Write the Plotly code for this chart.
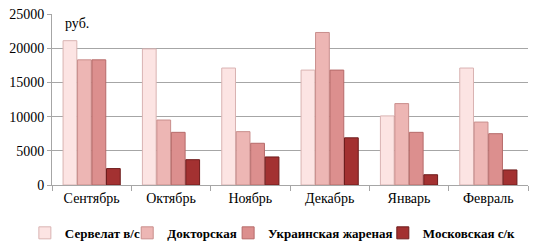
import plotly.graph_objects as go

months = ["Сентябрь", "Октябрь", "Ноябрь", "Декабрь", "Январь", "Февраль"]
servelat = [21100, 19900, 17100, 16800, 10100, 17100]
doktorskaya = [18300, 9500, 7800, 22300, 11900, 9200]
ukrainskaya = [18300, 7700, 6100, 16800, 7700, 7500]
moskovskaya = [2400, 3700, 4100, 6900, 1500, 2200]
series_names = ["Сервелат в/с", "Докторская", "Украинская жареная", "Московская с/к"]
y_ticks = [0, 5000, 10000, 15000, 20000, 25000]
y_tick_labels = ["0", "5000", "10000", "15000", "20000", "25000"]

colors = ["#FCE4E3", "#EDB6B4", "#DC8F8E", "#A33131"]
lines = ["#D9B3B2", "#C98E8C", "#B66A69", "#6E1C1C"]
legend_ids = ["legend", "legend2", "legend3", "legend4"]
legend_x = [-0.057, 0.158, 0.370, 0.695]

fig = go.Figure()
for name, vals, c, lc, lid in zip(series_names, [servelat, doktorskaya, ukrainskaya, moskovskaya],
                                  colors, lines, legend_ids):
    fig.add_trace(go.Bar(x=months, y=vals, name=name, legend=lid,
                         marker=dict(color=c, line=dict(color=lc, width=1))))

legend_font = dict(family="Liberation Serif", size=13, color="black", weight="bold")
legend_layout = {}
for lid, lx in zip(legend_ids, legend_x):
    legend_layout[lid] = dict(orientation="h", x=lx, xanchor="left", y=-0.28, yanchor="middle",
                              font=legend_font, bgcolor="rgba(0,0,0,0)", borderwidth=0)

fig.update_layout(
    width=542, height=247,
    margin=dict(l=52, r=14, t=14, b=62, autoexpand=False),
    paper_bgcolor="white", plot_bgcolor="white",
    barmode="group", bargap=0.27, bargroupgap=0.05,
    font=dict(family="Liberation Serif", size=14, color="black"),
    showlegend=True,
    annotations=[dict(text="руб.", x=0.023, y=1.0, xref="paper", yref="paper",
                      xanchor="left", yanchor="top", showarrow=False,
                      font=dict(family="Liberation Serif", size=14))],
    **legend_layout,
)
fig.update_yaxes(range=[0, 25000], tickvals=y_ticks, ticktext=y_tick_labels,
                 showgrid=True, gridcolor="#A6A6A6",
                 gridwidth=1, showline=True, linecolor="#A6A6A6", ticks="outside",
                 ticklen=4, tickcolor="#A6A6A6", zeroline=False,
                 tickfont=dict(family="Liberation Serif", size=14))
fig.update_xaxes(showline=True, linecolor="#A6A6A6", ticks="outside", tickson="boundaries",
                 ticklen=5, tickcolor="#A6A6A6",
                 tickfont=dict(family="Liberation Serif", size=14))

fig.write_html("out.html", config={"displayModeBar": False},
               post_script="document.body.style.margin='0';")
